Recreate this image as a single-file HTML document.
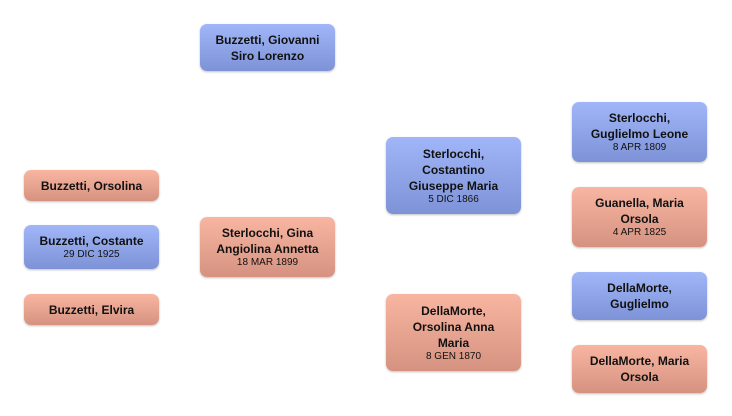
<!DOCTYPE html><html><head><style>
body{margin:0;width:732px;height:416px;background:#fff;position:relative;font-family:"Liberation Sans",sans-serif;overflow:hidden}
.b{position:absolute;width:135px;border-radius:7px;display:flex;flex-direction:column;justify-content:center;align-items:center;text-align:center;font-size:12px;font-weight:bold;line-height:16px;color:#111;box-shadow:0 1px 2px rgba(0,0,0,.25);box-sizing:border-box}
.m{background:linear-gradient(#a0b6f8,#7e93d7)}
.f{background:linear-gradient(#f8b6a2,#d69280)}
.d{font-weight:normal;font-size:10px;line-height:12px}
</style></head><body>
<div class="b m" style="left:200px;top:24px;height:47px">Buzzetti, Giovanni<br>Siro Lorenzo</div>
<div class="b f" style="left:24px;top:170px;height:31px">Buzzetti, Orsolina</div>
<div class="b m" style="left:24px;top:225px;height:44px">Buzzetti, Costante<span class="d">29 DIC 1925</span></div>
<div class="b f" style="left:24px;top:294px;height:31px">Buzzetti, Elvira</div>
<div class="b f" style="left:200px;top:217px;height:60px">Sterlocchi, Gina<br>Angiolina Annetta<span class="d">18 MAR 1899</span></div>
<div class="b m" style="left:386px;top:137px;height:77px">Sterlocchi,<br>Costantino<br>Giuseppe Maria<span class="d">5 DIC 1866</span></div>
<div class="b f" style="left:386px;top:294px;height:77px">DellaMorte,<br>Orsolina Anna<br>Maria<span class="d">8 GEN 1870</span></div>
<div class="b m" style="left:572px;top:102px;height:60px">Sterlocchi,<br>Guglielmo Leone<span class="d">8 APR 1809</span></div>
<div class="b f" style="left:572px;top:187px;height:60px">Guanella, Maria<br>Orsola<span class="d">4 APR 1825</span></div>
<div class="b m" style="left:572px;top:272px;height:48px">DellaMorte,<br>Guglielmo</div>
<div class="b f" style="left:572px;top:345px;height:48px">DellaMorte, Maria<br>Orsola</div>
</body></html>
